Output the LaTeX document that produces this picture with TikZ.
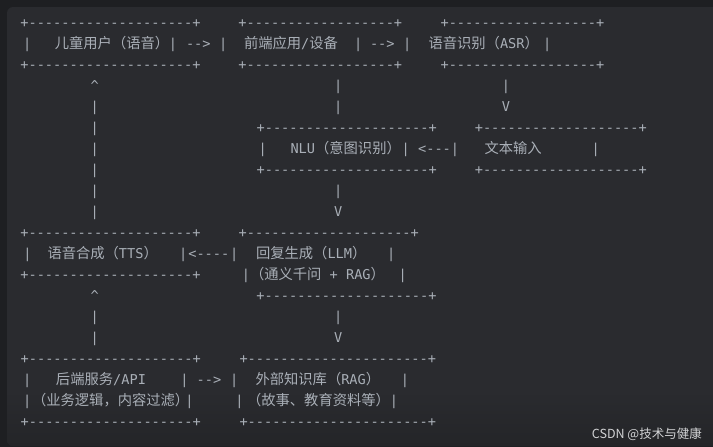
\documentclass[tikz,border=0pt]{standalone}
\usepackage{fontspec}
\setmonofont{DejaVu Sans Mono}
\newfontfamily\cjk{Noto Sans CJK SC}
\definecolor{outerbg}{HTML}{1E1F22}
\definecolor{codebg}{HTML}{2A2B2F}
\definecolor{codebot}{HTML}{242528}
\definecolor{fg}{HTML}{A9AFB7}
\definecolor{wm}{HTML}{D2D3D5}
\newcommand\rep[2]{\ifnum#1>0 #2\expandafter\rep\expandafter{\number\numexpr#1-1\relax}{#2}\fi}
\newcommand\brd[1]{+\rep{#1}{-}+}
\newcommand\zh[1]{{\cjk\fontsize{14.3pt}{17pt}\selectfont #1}}
\begin{document}
\begin{tikzpicture}[x=1pt,y=-1pt,
  t/.style={font=\ttfamily\fontsize{13.6pt}{16pt}\selectfont, text=fg, inner sep=0pt, outer sep=0pt, anchor=base},
  tw/.style={t, anchor=base west}]
\useasboundingbox (0,0) rectangle (713,447);
\fill[outerbg] (0,0) rectangle (713,447);
\fill[codebg, rounded corners=6pt] (7,7) rectangle (740,446);
\begin{scope}
\clip[rounded corners=6pt] (7,7) rectangle (740,446);
\shade[top color=codebg, bottom color=codebot] (7,390) rectangle (740,447);
\end{scope}
% row 1
\node[t] (b1a) at (110.5,27.5) {\brd{20}};
\node[t] (b1b) at (320.3,27.5) {\brd{18}};
\node[t] (b1c) at (522.5,27.5) {\brd{18}};
% row 2
\node[t] (u1) at (27.3,48.5) {|};
\node[tw] (user) at (54.8,48.5) {\zh{儿童用户（语音）}};
\node[t] (u2) at (173,48.5) {|};
\node[t] (a1) at (198.3,48.5) {-->};
\node[t] (f1) at (223.3,48.5) {|};
\node[tw] (front) at (244,48.5) {\zh{前端应用}/\zh{设备}};
\node[t] (f2) at (358.3,48.5) {|};
\node[t] (a2) at (382.3,48.5) {-->};
\node[t] (s1) at (407.3,48.5) {|};
\node[tw] (asr) at (428.5,48.5) {\zh{语音识别（}ASR\zh{）}};
\node[t] (s2) at (547.3,48.5) {|};
% row 3
\node[t] (b3a) at (110.5,69.5) {\brd{20}};
\node[t] (b3b) at (320.3,69.5) {\brd{18}};
\node[t] (b3c) at (522.5,69.5) {\brd{18}};
% row 4
\node[t] (up1) at (94.8,90.5) {\^{}};
\node[t] (v4b) at (338.3,90.5) {|};
\node[t] (v4c) at (506,90.5) {|};
% row 5
\node[t] (v5a) at (94.8,111.5) {|};
\node[t] (v5b) at (338.3,111.5) {|};
\node[t] (dn1) at (506,111.5) {V};
% row 6
\node[t] (v6a) at (94.8,132.5) {|};
\node[t] (b6b) at (346.7,132.5) {\brd{20}};
\node[t] (b6c) at (560.8,132.5) {\brd{19}};
% row 7
\node[t] (v7a) at (94.8,153.5) {|};
\node[t] (n1) at (262.7,153.5) {|};
\node[tw] (nlu) at (290.5,153.5) {NLU\zh{（意图识别）}};
\node[t] (n2) at (405.7,153.5) {|};
\node[t] (a3) at (434.5,153.5) {<---};
\node[t] (x1) at (455,153.5) {|};
\node[tw] (txt) at (484.5,153.5) {\zh{文本输入}};
\node[t] (x2) at (595.7,153.5) {|};
% row 8
\node[t] (v8a) at (94.8,174.5) {|};
\node[t] (b8b) at (346.7,174.5) {\brd{20}};
\node[t] (b8c) at (560.8,174.5) {\brd{19}};
% row 9
\node[t] (v9a) at (94.8,195.5) {|};
\node[t] (v9b) at (338.3,195.5) {|};
% row 10
\node[t] (v10a) at (94.8,216.5) {|};
\node[t] (dn2) at (338.3,216.5) {V};
% row 11
\node[t] (b11a) at (110.4,237.5) {\brd{20}};
\node[t] (b11b) at (328.8,237.5) {\brd{20}};
% row 12
\node[t] (t1) at (27.5,258.5) {|};
\node[tw] (tts) at (47.5,258.5) {\zh{语音合成（}TTS\zh{）}};
\node[t] (t2) at (183.3,258.5) {|};
\node[t] (a4) at (208.8,258.5) {<----};
\node[t] (l1) at (234.3,258.5) {|};
\node[tw] (llm) at (256,258.5) {\zh{回复生成（}LLM\zh{）}};
\node[t] (l2) at (391.2,258.5) {|};
% row 13
\node[t] (b13a) at (110.5,279.5) {\brd{20}};
\node[t] (l3) at (246,279.5) {|};
\node[tw] (llm2) at (250,279.5) {\zh{（通义千问} + RAG\zh{）}};
\node[t] (l4) at (402.7,279.5) {|};
% row 14
\node[t] (up2) at (94.8,300.5) {\^{}};
\node[t] (b14b) at (346.5,300.5) {\brd{20}};
% row 15
\node[t] (v15a) at (94.8,321.5) {|};
\node[t] (v15b) at (338.3,321.5) {|};
% row 16
\node[t] (v16a) at (94.8,342.5) {|};
\node[t] (dn3) at (338.3,342.5) {V};
% row 17
\node[t] (b17a) at (110.8,363.5) {\brd{20}};
\node[t] (b17b) at (337.8,363.5) {\brd{22}};
% row 18
\node[t] (k1) at (27.3,384.5) {|};
\node[tw] (api) at (56,384.5) {\zh{后端服务}/API};
\node[t] (k2) at (184.5,384.5) {|};
\node[t] (a5) at (209,384.5) {-->};
\node[t] (r1) at (234.2,384.5) {|};
\node[tw] (rag) at (255.5,384.5) {\zh{外部知识库（}RAG\zh{）}};
\node[t] (r2) at (405,384.5) {|};
% row 19
\node[t] (k3) at (27.3,405.5) {|};
\node[tw] (api2) at (32,405.5) {\zh{（业务逻辑，内容过滤）}};
\node[t] (k4) at (189.5,405.5) {|};
\node[t] (r3) at (239.5,405.5) {|};
\node[tw] (rag2) at (247,405.5) {\zh{（故事、教育资料等）}};
\node[t] (r4) at (394,405.5) {|};
% row 20
\node[t] (b20a) at (110.8,426.5) {\brd{20}};
\node[t] (b20b) at (337.8,426.5) {\brd{22}};
% watermark
\node[anchor=base east, inner sep=0pt, font=\cjk\fontsize{12.5pt}{14pt}\selectfont, text=wm] (wmk) at (702,438) {CSDN @技术与健康};
\end{tikzpicture}
\end{document}
